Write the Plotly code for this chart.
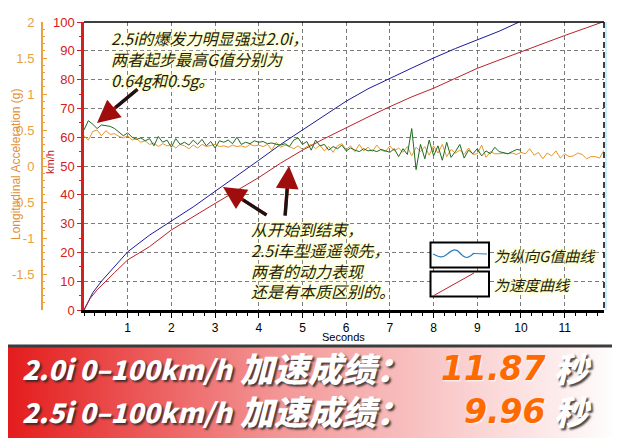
import plotly.graph_objects as go

# ---------------- data ----------------
# speed curves (km/h vs seconds)
T_25 = [0, 0.1, 0.2, 0.4, 0.6, 0.8, 1.0, 1.5, 2.0, 2.5, 3.0, 3.5, 4.0, 4.5, 5.0,
        5.5, 6.0, 6.5, 7.0, 7.5, 8.0, 8.5, 9.0, 9.5, 9.96]
V_25 = [0, 3, 6, 10, 13.5, 17, 20.2, 26, 31, 35.8, 41.2, 46.5, 52, 57.5, 62.5,
        67.5, 72.5, 76.8, 80.5, 84, 87.5, 90.8, 93.8, 96.8, 100]
T_20 = [0, 0.14, 0.3, 0.48, 0.7, 1.0, 1.5, 2.0, 2.5, 3.0, 3.5, 4.0, 4.5, 5.0,
        5.5, 6.0, 6.5, 7.0, 7.5, 8.0, 8.5, 9.0, 9.5, 10.0, 10.5, 11.0, 11.5, 11.87]
V_20 = [0, 4, 7, 9.8, 13, 17.4, 22, 27.8, 32.5, 37, 41.5, 46, 51, 55.5,
        59.5, 63.3, 67, 70.6, 74, 77, 80.5, 83.9, 86.8, 89.7, 92.5, 95.3, 98, 100]

# longitudinal acceleration (g), sampled every G_STEP seconds from t = 0
G_STEP = 0.1
G_25 = [0.50, 0.63, 0.58, 0.52, 0.57, 0.56, 0.55, 0.52, 0.47, 0.42,
        0.46, 0.40, 0.37, 0.39, 0.35, 0.38, 0.28, 0.41, 0.33, 0.36,
        0.26, 0.38, 0.30, 0.33, 0.29, 0.36, 0.30, 0.37, 0.28, 0.34,
        0.25, 0.35, 0.33, 0.36, 0.31, 0.40, 0.30, 0.33, 0.31, 0.35,
        0.33, 0.34, 0.31, 0.32, 0.30, 0.29, 0.31, 0.27, 0.36, 0.39,
        0.30, 0.34, 0.22, 0.36, 0.28, 0.30, 0.22, 0.27, 0.24, 0.29,
        0.21, 0.25, 0.22, 0.20, 0.24, 0.21, 0.22, 0.20, 0.23, 0.21,
        0.19, 0.24, 0.13, 0.24, 0.16, 0.52, -0.05, 0.30, 0.10, 0.36,
        0.14, 0.28, 0.08, 0.33, 0.12, 0.20, 0.30, 0.11, 0.22, 0.17,
        0.24, 0.14, 0.21, 0.17, 0.26, 0.20, 0.19, 0.17, 0.20, 0.23,
        0.22]
G_20 = [0.42, 0.36, 0.48, 0.50, 0.42, 0.49, 0.44, 0.45, 0.41, 0.39,
        0.42, 0.36, 0.38, 0.33, 0.35, 0.30, 0.32, 0.27, 0.31, 0.28,
        0.30, 0.25, 0.30, 0.28, 0.24, 0.29, 0.25, 0.30, 0.27, 0.28,
        0.30, 0.27, 0.28, 0.26, 0.29, 0.27, 0.28, 0.26, 0.30, 0.28,
        0.29, 0.27, 0.30, 0.22, 0.33, 0.26, 0.29, 0.27, 0.24, 0.28,
        0.23, 0.27, 0.30, 0.24, 0.29, 0.21, 0.27, 0.19, 0.28, 0.31,
        0.23, 0.28, 0.20, 0.30, 0.21, 0.26, 0.20, 0.29, 0.22, 0.20,
        0.28, 0.21, 0.25, 0.19, 0.27, 0.14, 0.26, 0.20, 0.27, 0.15,
        0.28, 0.18, 0.30, 0.13, 0.23, 0.18, 0.22, 0.16, 0.25, 0.16,
        0.17, 0.29, 0.12, 0.20, 0.17, 0.17, 0.18, 0.17, 0.18, 0.16,
        0.19, 0.17, 0.24, 0.15, 0.19, 0.10, 0.18, 0.14, 0.21, 0.11,
        0.17, 0.13, 0.14, 0.18, 0.16, 0.10, 0.13, 0.13, 0.11, 0.22]

X_TICKS = [1, 2, 3, 4, 5, 6, 7, 8, 9, 10, 11]
V_TICKS = [0, 10, 20, 30, 40, 50, 60, 70, 80, 90, 100]
G_TICKS = [-1.5, -1, -0.5, 0, 0.5, 1, 1.5, 2]
G_TICKTEXT = ["-1.5", "-1", "-0.5", "0", "0.5", "1", "1.5", "2"]

CARS = ["2.0i", "2.5i"]
TIMES = ["11.87", "9.96"]

# ---------------- helpers (window pixel -> paper) ----------------
# the page body has an 8px margin, so the figure starts at (8, 8)
OFF = 8
W, H = 612, 430
def PX(x):
    return (x - OFF) / W
def PY(y):
    return 1 - (y - OFF) / H

t_g25 = [round(i * G_STEP, 2) for i in range(len(G_25))]
t_g20 = [round(i * G_STEP, 2) for i in range(len(G_20))]

fig = go.Figure()

# banner background (gradient)
fig.add_trace(go.Scatter(
    x=[0, 1, 1, 0, 0], y=[0, 0, 1, 1, 0], xaxis="x3", yaxis="y3",
    mode="lines", fill="toself", line=dict(width=0),
    fillgradient=dict(type="horizontal",
                      colorscale=[[0, "#e41c1c"], [0.45, "#f49898"], [1, "#ffffff"]]),
    hoverinfo="skip", showlegend=False))

# G traces
fig.add_trace(go.Scatter(x=t_g20, y=G_20, yaxis="y2", mode="lines",
                         line=dict(color="#e8952a", width=1), name="2.0i G"))
fig.add_trace(go.Scatter(x=t_g25, y=G_25, yaxis="y2", mode="lines",
                         line=dict(color="#1d6b1d", width=1), name="2.5i G"))
# speed traces
fig.add_trace(go.Scatter(x=T_25, y=V_25, mode="lines",
                         line=dict(color="#1a1a9a", width=1), name="2.5i"))
fig.add_trace(go.Scatter(x=T_20, y=V_20, mode="lines",
                         line=dict(color="#b8222a", width=1), name="2.0i"))

GRID = dict(gridcolor="#7a7a7a", griddash="4px,3px", gridwidth=1)

fig.update_layout(
    width=W, height=H, margin=dict(l=0, r=0, t=0, b=0, autoexpand=False),
    paper_bgcolor="white", plot_bgcolor="white", showlegend=False,
    font=dict(family="Arial", size=12, color="black"),
    xaxis=dict(domain=[PX(84), PX(604)], range=[0, 11.9], tickvals=X_TICKS,
               ticks="outside", ticklen=5, tickcolor="black", tickwidth=1,
               minor=dict(dtick=0.25, ticks="outside", ticklen=3, tickcolor="black", showgrid=False),
               showline=True, linecolor="black", linewidth=2.5, zeroline=False,
               tickfont=dict(size=12, color="black"), showgrid=True, **GRID),
    yaxis=dict(domain=[PY(310), PY(22)], range=[0, 100], tickvals=V_TICKS,
               ticks="outside", ticklen=4, tickcolor="#d42020", tickwidth=1,
               minor=dict(dtick=5, ticks="outside", ticklen=2, tickcolor="#d42020", showgrid=False),
               showline=True, linecolor="#d42020", linewidth=2.5, zeroline=False,
               tickfont=dict(size=13, color="#d42020"), showgrid=True, **GRID),
    yaxis2=dict(overlaying="y", anchor="free", position=PX(42), side="left",
                range=[-2, 2], tickvals=G_TICKS, ticktext=G_TICKTEXT,
                ticks="inside", ticklen=4, tickcolor="#e8a040", ticklabelstandoff=4,
                minor=dict(dtick=0.1, ticks="inside", ticklen=2, tickcolor="#e8a040"),
                showline=True, linecolor="#e8a040", linewidth=2, zeroline=False,
                showgrid=False, tickfont=dict(size=13, color="#e8a040")),
    xaxis3=dict(domain=[0, 1], range=[0, 1], visible=False, fixedrange=True, anchor="y3"),
    yaxis3=dict(domain=[0, PY(347)], range=[0, 1], visible=False, fixedrange=True, anchor="x3"),
)

shapes = []
# top border and right dashed border of plot
shapes.append(dict(type="line", xref="paper", yref="paper", x0=PX(84), x1=PX(604),
                   y0=PY(22), y1=PY(22), line=dict(color="black", width=1.5)))
shapes.append(dict(type="line", xref="paper", yref="paper", x0=PX(606), x1=PX(606),
                   y0=PY(22), y1=PY(310), line=dict(color="#c8eef8", width=2)))
shapes.append(dict(type="line", xref="paper", yref="paper", x0=PX(604), x1=PX(604),
                   y0=PY(22), y1=PY(310), line=dict(color="black", width=1.5, dash="6px,4px")))
# banner top dark line
shapes.append(dict(type="line", xref="paper", yref="paper", x0=0, x1=1,
                   y0=PY(346), y1=PY(346), line=dict(color="#3c3c3c", width=3)))
# legend boxes
for (y0, y1) in [(242.5, 267.5), (271.5, 296.5)]:
    shapes.append(dict(type="rect", xref="paper", yref="paper", x0=PX(430.5), x1=PX(489),
                       y0=PY(y1), y1=PY(y0), fillcolor="white",
                       line=dict(color="black", width=2)))
# legend sample lines
wave = "M {},{} C {},{} {},{} {},{} S {},{} {},{} S {},{} {},{}".format(
    PX(433), PY(254), PX(438), PY(256), PX(441), PY(259), PX(446), PY(255),
    PX(455), PY(247), PX(460), PY(253), PX(468), PY(259), PX(474), PY(253))
shapes.append(dict(type="path", xref="paper", yref="paper", path=wave,
                   line=dict(color="#2a7fc0", width=1.2)))
shapes.append(dict(type="line", xref="paper", yref="paper", x0=PX(474), x1=PX(487),
                   y0=PY(253.5), y1=PY(254), line=dict(color="#2a7fc0", width=1.2)))
shapes.append(dict(type="line", xref="paper", yref="paper", x0=PX(433), x1=PX(474),
                   y0=PY(296), y1=PY(273), line=dict(color="#b8222a", width=1)))
fig.update_layout(shapes=shapes)

anns = []
CN = "Noto Sans CJK SC, Noto Sans, sans-serif"
GLOW = "0 0 2px #ffff9c, 0 0 4px #ffffa8, 0 0 6px #ffffb8"
def note(x, y, text, size=16):
    anns.append(dict(xref="paper", yref="paper", x=PX(x), y=PY(y), text=text,
                     showarrow=False, xanchor="left", yanchor="top", align="left",
                     font=dict(family=CN, size=size, color="#1c1c1c", style="italic",
                               shadow=GLOW)))

def arrow(tip, tail):
    mid = (tip[0] + (tail[0] - tip[0]) * 0.45, tip[1] + (tail[1] - tip[1]) * 0.45)
    anns.append(dict(xref="paper", yref="paper", x=PX(tip[0]), y=PY(tip[1]),
                     ax=tail[0] - tip[0], ay=tail[1] - tip[1], text="",
                     showarrow=True, arrowhead=2, arrowsize=1.3, arrowwidth=3.5,
                     arrowcolor="#a00d0d"))
    anns.append(dict(xref="paper", yref="paper", x=PX(mid[0]), y=PY(mid[1]),
                     ax=tail[0] - mid[0], ay=tail[1] - mid[1], text="",
                     showarrow=True, arrowhead=0, arrowwidth=3, arrowcolor="#151515"))

arrow((97, 123), (139, 88))
arrow((223, 187), (268, 216))
arrow((289, 166), (285, 217))

note(109, 24, "2.5i的爆发力明显强过2.0i，<br>两者起步最高G值分别为<br>0.64g和0.5g。")
note(249, 215, "从开始到结束，<br>2.5i车型遥遥领先，<br>两者的动力表现<br>还是有本质区别的。")
for yc, txt in [(255, "为纵向G值曲线"), (284, "为速度曲线")]:
    anns.append(dict(xref="paper", yref="paper", x=PX(492), y=PY(yc), text=txt,
                     showarrow=False, xanchor="left", yanchor="middle",
                     font=dict(family=CN, size=15, color="#1c1c1c", style="italic", shadow=GLOW)))

# axis titles
anns.append(dict(xref="paper", yref="paper", x=PX(343), y=PY(337), text="Seconds",
                 showarrow=False, xanchor="center", yanchor="middle",
                 font=dict(family="Arial", size=11, color="black")))
anns.append(dict(xref="paper", yref="paper", x=PX(16), y=PY(165),
                 text="Longitudinal Acceleration (g)", textangle=-90,
                 showarrow=False, xanchor="center", yanchor="middle",
                 font=dict(family="Arial", size=12, color="#e0903a")))
anns.append(dict(xref="paper", yref="paper", x=PX(50), y=PY(162), text="km/h",
                 textangle=-90, showarrow=False, xanchor="center", yanchor="middle",
                 font=dict(family="Arial", size=11, color="#c82020")))

# banner text
SH = "2px 2px 2px rgba(40,40,40,0.85)"
BL = dict(family=CN, size=27, color="white", style="italic", weight=900, shadow=SH)
BC = dict(family=CN, size=34, color="white", style="italic", weight=900, shadow=SH)
BN = dict(family="DejaVu Sans, " + CN, size=33, color="#ff6a00", style="italic",
          weight="bold", shadow="1px 1px 2px rgba(255,255,255,0.9)")
for yc, car, tm in zip([368, 411], CARS, TIMES):
    anns.append(dict(xref="paper", yref="paper", x=PX(20), y=PY(yc),
                     text=car + " 0–100km/h", showarrow=False,
                     xanchor="left", yanchor="middle", font=BL))
    anns.append(dict(xref="paper", yref="paper", x=PX(238), y=PY(yc - 1),
                     text="加速成绩：", showarrow=False,
                     xanchor="left", yanchor="middle", font=BC))
    anns.append(dict(xref="paper", yref="paper", x=PX(547), y=PY(yc), text=tm,
                     showarrow=False, xanchor="right", yanchor="middle", font=BN))
    anns.append(dict(xref="paper", yref="paper", x=PX(573), y=PY(yc - 1), text="秒",
                     showarrow=False, xanchor="center", yanchor="middle", font=BC))

fig.update_layout(annotations=anns)
fig.write_html("out.html")
